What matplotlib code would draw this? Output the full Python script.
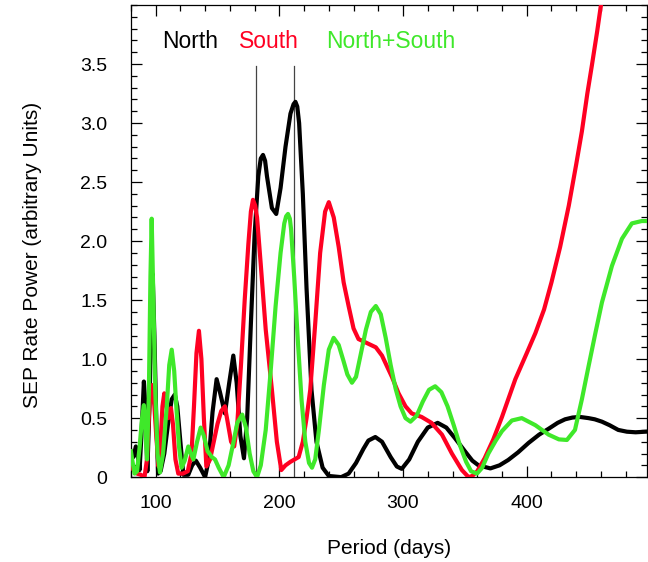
import matplotlib
matplotlib.use("Agg")
import matplotlib.pyplot as plt
from matplotlib.ticker import MultipleLocator, FuncFormatter

plt.rcParams['font.family'] = ['Liberation Sans', 'DejaVu Sans']

# period (days) / power
north_period = [80, 82, 84, 86, 87, 88.5, 90.5, 92, 93.3, 95, 96.5, 97.6, 99, 100.5, 102,
                104, 107, 110, 113, 115.5, 117.5, 120, 122.4, 126.4, 129.5, 132.5, 136, 140,
                143, 146, 149.3, 152, 156, 159.5, 162.8, 165.5, 168.5, 171.4, 174, 177, 180,
                183, 185, 186.8, 188.5, 190, 194, 197.5, 201, 205, 209, 211.5, 213, 214.5, 216,
                219, 222, 226, 230, 235, 240, 250, 256, 262, 268, 272, 277.6, 283, 290, 295,
                299, 305, 312, 320, 328, 335, 342, 350, 356, 361, 370.6, 378, 385, 393, 401.5,
                410, 417.7, 425, 431, 437, 443, 450, 455, 460.8, 467, 474, 481, 488, 496]
north_power = [0.22, 0.17, 0.26, 0.15, 0.06, 0.35, 0.81, 0.55, 0.05, 0.6, 1.4, 1.72, 1.2, 0.5, 0.03,
               0.05, 0.2, 0.45, 0.66, 0.70, 0.6, 0.3, 0.02, 0.02, 0.1, 0.14, 0.08, 0.0,
               0.15, 0.55, 0.83, 0.72, 0.54, 0.8, 1.03, 0.8, 0.35, 0.16, 0.5, 1.3, 2.05,
               2.55, 2.7, 2.73, 2.68, 2.55, 2.28, 2.23, 2.45, 2.8, 3.08, 3.16, 3.18, 3.14, 3.0,
               2.4, 1.6, 0.74, 0.3, 0.08, 0.01, 0.0, 0.03, 0.12, 0.24, 0.31, 0.34, 0.3, 0.17, 0.09,
               0.07, 0.15, 0.3, 0.42, 0.46, 0.42, 0.33, 0.22, 0.14, 0.1, 0.074, 0.1, 0.145, 0.21, 0.29,
               0.36, 0.41, 0.46, 0.49, 0.505, 0.51, 0.5, 0.49, 0.47, 0.44, 0.40, 0.385, 0.38, 0.385]

south_period = [80, 83, 85, 88, 91, 93, 94, 95.5, 97.3, 99, 100.5, 102.4, 104, 105.5, 107,
                108.5, 110.3, 112.4, 114, 116, 118.3, 122, 126, 129, 131, 133, 135, 137, 139,
                141, 144, 147, 150, 153, 156, 158.5, 161, 163.5, 166, 169, 172, 175, 177,
                178.7, 180.5, 182, 185, 189, 194, 198, 201.6, 205, 209, 215.6, 219, 222, 225,
                229, 233, 237, 240, 244, 248, 252, 256, 260, 264, 272, 278, 283, 291, 296.4,
                302, 307, 315, 323, 331.5, 339.5, 347.6, 353, 356, 360, 366, 373, 380, 390.8,
                400, 407, 414, 420, 427, 434, 440, 444.6, 449, 452.7, 457, 460, 463]
south_power = [0.09, 0.05, 0.03, 0.02, 0.0, 0.15, 0.4, 0.7, 0.78, 0.6, 0.35, 0.09, 0.3, 0.6, 0.71,
               0.62, 0.5, 0.585, 0.45, 0.15, 0.03, 0.03, 0.05, 0.2, 0.6, 1.05, 1.24, 1.0, 0.5,
               0.09, 0.15, 0.3, 0.45, 0.56, 0.6, 0.45, 0.3, 0.26, 0.45, 0.95, 1.5, 1.98, 2.25,
               2.35, 2.3, 2.2, 1.8, 1.25, 0.74, 0.3, 0.06, 0.1, 0.13, 0.17, 0.3, 0.5, 0.74,
               1.3, 1.9, 2.25, 2.33, 2.2, 1.95, 1.65, 1.45, 1.26, 1.17, 1.13, 1.1, 1.03, 0.85, 0.71,
               0.60, 0.54, 0.51, 0.46, 0.36, 0.20, 0.06, 0.0, 0.01, 0.05, 0.16, 0.32, 0.51, 0.83,
               1.05, 1.22, 1.42, 1.65, 1.95, 2.3, 2.65, 2.93, 3.25, 3.49, 3.78, 4.0, 4.2]

both_period = [80, 81.5, 83, 85, 87, 89, 90.5, 92, 93, 94.5, 95.8, 96.8, 98, 99.5, 101.5,
               103.5, 106, 109, 111, 113, 115, 117, 119, 121, 123.5, 126.4, 128.5, 130.5,
               133.5, 136.4, 139, 142, 145.5, 148, 151, 155, 159, 163, 166, 170, 173, 176,
               179, 182, 185, 189, 193, 197, 201, 204, 205.5, 207, 208.5, 209.5, 212, 215, 218,
               221, 224, 226.4, 229, 232, 236, 240, 243.9, 248, 252, 255, 258.7, 262, 266,
               270, 274, 278, 282, 286, 290, 294, 298, 302, 306, 311, 316, 321, 326, 331, 336,
               341, 346, 351, 355, 359.8, 364, 369, 375, 380, 388, 396, 407, 417.7, 426, 432.5,
               439, 444.6, 450, 455.5, 460.8, 468.9, 477, 485, 493, 497]
both_power = [0.22, 0.12, 0.03, 0.05, 0.25, 0.5, 0.61, 0.35, 0.15, 0.7, 1.7, 2.19, 1.6, 0.8, 0.2,
              0.04, 0.2, 0.6, 0.95, 1.08, 0.9, 0.55, 0.25, 0.08, 0.14, 0.26, 0.2, 0.15,
              0.3, 0.42, 0.35, 0.22, 0.17, 0.15, 0.08, 0.0, 0.1, 0.3, 0.46, 0.53, 0.42, 0.2,
              0.05, 0.0, 0.1, 0.4, 0.9, 1.45, 1.9, 2.15, 2.21, 2.23, 2.19, 2.1, 1.7, 1.15, 0.65,
              0.3, 0.12, 0.08, 0.15, 0.4, 0.78, 1.08, 1.18, 1.12, 0.98, 0.87, 0.80, 0.85, 1.05,
              1.25, 1.4, 1.45, 1.38, 1.18, 0.95, 0.75, 0.6, 0.5, 0.47, 0.52, 0.64, 0.74, 0.77, 0.72,
              0.6, 0.44, 0.27, 0.13, 0.05, 0.03, 0.08, 0.2, 0.31, 0.39, 0.48, 0.50, 0.44, 0.36, 0.32,
              0.315, 0.4, 0.66, 0.94, 1.22, 1.48, 1.79, 2.02, 2.15, 2.17, 2.17]

marker_periods = [181.5, 211.5]
marker_top = 3.48

fig = plt.figure(figsize=(6.48, 5.62), dpi=100)
ax = fig.add_axes([0.202, 0.151, 0.796, 0.840])

for p in marker_periods:
    ax.plot([p, p], [0, marker_top], color='#444444', lw=0.9, zorder=1)

ax.plot(north_period, north_power, color='black', lw=3, solid_joinstyle='round', zorder=2)
ax.plot(south_period, south_power, color='#ff0022', lw=3, solid_joinstyle='round', zorder=3)
ax.plot(both_period, both_power, color='#3fe82a', lw=3, solid_joinstyle='round', zorder=4)

ax.text(105, 3.69, 'North', color='black', fontsize=16.5, va='center')
ax.text(167, 3.69, 'South', color='#ff0022', fontsize=16.5, va='center')
ax.text(238, 3.69, 'North+South', color='#3fe82a', fontsize=16.5, va='center')

ax.set_xlim(80, 497)
ax.set_ylim(0, 4.0)
ax.xaxis.set_major_locator(MultipleLocator(100))
ax.xaxis.set_minor_locator(MultipleLocator(20))
ax.set_yticks([0, 0.5, 1.0, 1.5, 2.0, 2.5, 3.0, 3.5])
ax.yaxis.set_minor_locator(MultipleLocator(0.1))
ax.yaxis.set_major_formatter(FuncFormatter(lambda v, pos: '0' if v == 0 else '%.1f' % v))

ax.tick_params(which='both', direction='in', top=True, right=True, width=0.9)
ax.tick_params(which='major', length=8, labelsize=14)
ax.tick_params(which='minor', length=4.5)
ax.tick_params(axis='y', pad=17)
ax.tick_params(axis='x', pad=13)
for s in ax.spines.values():
    s.set_linewidth(0.9)

ax.set_xlabel('Period (days)', fontsize=15, labelpad=19)
ax.set_ylabel('SEP Rate Power (arbitrary Units)', fontsize=15)
ax.yaxis.set_label_coords(-0.172, 0.47)

fig.savefig('out.png', dpi=100)
